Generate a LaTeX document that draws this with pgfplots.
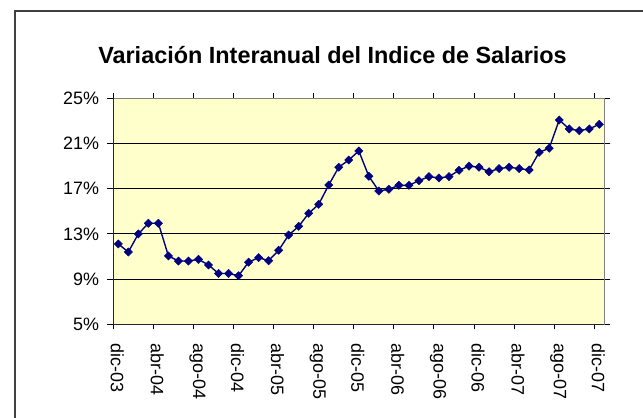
\documentclass[border=0pt]{standalone}
\usepackage{pgfplots}
\pgfplotsset{compat=1.18}
\usepackage{fontspec}
\setmainfont{Liberation Sans}
\definecolor{navy}{HTML}{000080}
\definecolor{plotbg}{HTML}{FFFFCC}
\begin{document}
\begin{tikzpicture}[x=1bp,y=1bp]
\useasboundingbox (0,0) rectangle (643,417);
\fill[white] (0,0) rectangle (643,417);
\draw[line width=1.2bp, color=black!75] (15,-5) -- (15,406) -- (650,406);
\node[anchor=base, inner sep=0pt, font=\fontsize{23.5}{26}\selectfont\bfseries] at (332.5,354) {Variación Interanual del Indice de Salarios};
\begin{axis}[at={(113.3bp,92.7bp)}, anchor=south west, scale only axis,
  width=491bp, height=226bp,
  xmin=-0.5, xmax=48.5, ymin=5, ymax=25,
  axis background/.style={fill=plotbg},
  axis line style={draw=gray, line width=1bp},
  tick align=outside,
  tick style={black, line width=1bp},
  xtick={0,4,...,48},
  xticklabels={dic-03,abr-04,ago-04,dic-04,abr-05,ago-05,dic-05,abr-06,ago-06,dic-06,abr-07,ago-07,dic-07},
  major x tick style={draw=none},
  minor xtick={-0.5,3.5,...,47.5},
  minor tick length=5bp,
  major tick length=6bp,
  ytick={5,9,...,25},
  yticklabel={\pgfmathprintnumber{\tick}\%},
  extra y ticks={9,13,17,21},
  extra y tick labels={},
  extra y tick style={grid=major, major grid style={black, line width=1bp}, major tick length=0pt},
  /pgf/number format/assume math mode=true,
  tick label style={font=\fontsize{18}{20}\selectfont},
  yticklabel style={anchor=east, inner sep=0pt, xshift=-8bp},
  xticklabel style={rotate=-90, anchor=west, inner sep=0pt, xshift=13bp, yshift=-1bp},
  clip=false,
]
\addplot[navy, line width=1.4bp, mark=square*, mark size=2.9bp,
  mark options={rotate=45, fill=navy, draw=navy, line width=0.5bp}] table {
x y
0 12.11
1 11.40
2 13.00
3 13.94
4 13.94
5 11.05
6 10.60
7 10.60
8 10.75
9 10.25
10 9.50
11 9.50
12 9.30
13 10.50
14 10.90
15 10.63
16 11.55
17 12.90
18 13.67
19 14.82
20 15.62
21 17.33
22 18.90
23 19.54
24 20.34
25 18.10
26 16.80
27 16.95
28 17.30
29 17.30
30 17.71
31 18.07
32 17.95
33 18.07
34 18.63
35 19.00
36 18.90
37 18.50
38 18.78
39 18.90
40 18.78
41 18.66
42 20.22
43 20.58
44 23.08
45 22.29
46 22.14
47 22.29
48 22.70
};
\draw[black!85, line width=1bp] (rel axis cs:0,1) -- (rel axis cs:0,0) -- (rel axis cs:1,0);
\end{axis}
\end{tikzpicture}
\end{document}
